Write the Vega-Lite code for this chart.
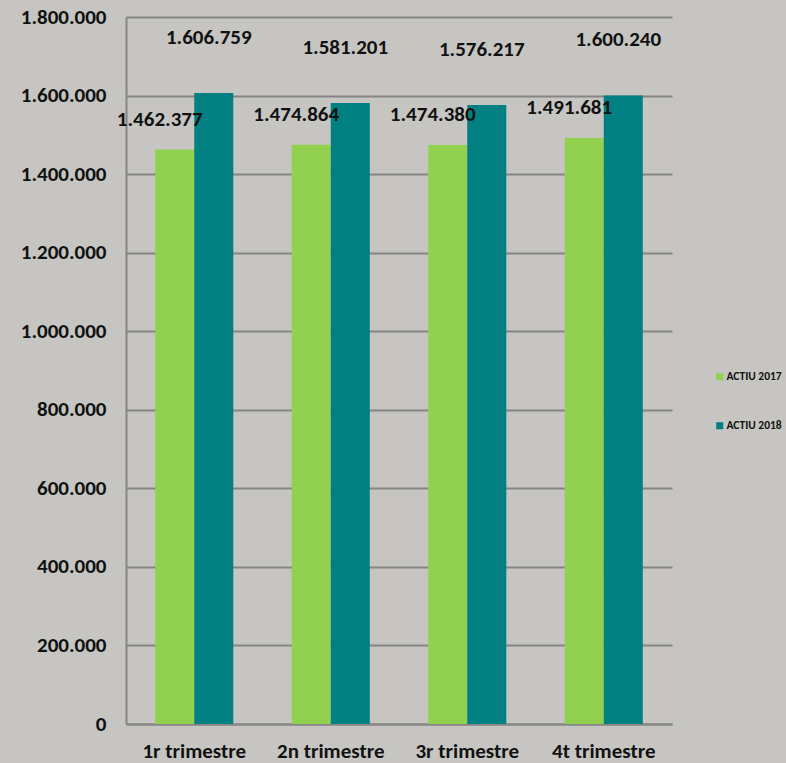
{
  "$schema": "https://vega.github.io/schema/vega-lite/v6.json",
  "width": 546,
  "height": 707,
  "autosize": {"type": "none"},
  "padding": {"left": 126, "top": 17, "right": 114, "bottom": 39},
  "background": "#c6c5c2",
  "config": {
    "locale": {"number": {"decimal": ",", "thousands": ".", "grouping": [3], "currency": ["", ""]}},
    "font": "Carlito, Liberation Sans",
    "view": {"stroke": null}
  },
  "data": {
    "values": [
      {"trimestre": "1r trimestre", "serie": "ACTIU 2017", "valor": 1462377},
      {"trimestre": "1r trimestre", "serie": "ACTIU 2018", "valor": 1606759},
      {"trimestre": "2n trimestre", "serie": "ACTIU 2017", "valor": 1474864},
      {"trimestre": "2n trimestre", "serie": "ACTIU 2018", "valor": 1581201},
      {"trimestre": "3r trimestre", "serie": "ACTIU 2017", "valor": 1474380},
      {"trimestre": "3r trimestre", "serie": "ACTIU 2018", "valor": 1576217},
      {"trimestre": "4t trimestre", "serie": "ACTIU 2017", "valor": 1491681},
      {"trimestre": "4t trimestre", "serie": "ACTIU 2018", "valor": 1600240}
    ]
  },
  "encoding": {
    "x": {
      "field": "trimestre", "type": "nominal", "sort": null,
      "scale": {"paddingInner": 0.428, "paddingOuter": 0.214},
      "axis": {"title": null, "labelAngle": 0, "ticks": false, "grid": false, "labelFontSize": 21, "labelFontWeight": "bold", "labelColor": "#111111", "labelPadding": 16, "domainColor": "#858585", "domainWidth": 2}
    },
    "xOffset": {"field": "serie", "type": "nominal", "scale": {"paddingInner": 0, "paddingOuter": 0}},
    "y": {
      "field": "valor", "type": "quantitative",
      "scale": {"domain": [0, 1800000], "nice": false},
      "axis": {"title": null, "values": [0, 200000, 400000, 600000, 800000, 1000000, 1200000, 1400000, 1600000, 1800000], "format": ",d", "ticks": false, "labelFontSize": 21, "labelFontWeight": "bold", "labelColor": "#111111", "labelPadding": 20, "gridColor": "#858585", "gridWidth": 2, "domainColor": "#858585", "domainWidth": 2}
    }
  },
  "layer": [
    {
      "mark": {"type": "bar"},
      "encoding": {
        "color": {
          "field": "serie", "type": "nominal",
          "scale": {"domain": ["ACTIU 2017", "ACTIU 2018"], "range": ["#92d050", "#008080"]},
          "legend": {"title": null, "orient": "none", "legendX": 588, "legendY": 354, "symbolType": "square", "symbolSize": 50, "labelFontSize": 11.5, "labelFontWeight": "bold", "labelColor": "#111111", "rowPadding": 36, "labelOffset": 1, "symbolStrokeWidth": 0}
        }
      }
    },
    {
      "transform": [{"filter": "datum.serie == 'ACTIU 2017'"}],
      "mark": {"type": "text", "baseline": "middle", "dy": -30, "dx": -15, "fontSize": 21, "fontWeight": "bold", "color": "#111111"},
      "encoding": {"text": {"field": "valor", "type": "quantitative", "format": ",d"}}
    },
    {
      "transform": [{"filter": "datum.serie == 'ACTIU 2018'"}],
      "mark": {"type": "text", "baseline": "middle", "dy": -55, "dx": -5, "fontSize": 21, "fontWeight": "bold", "color": "#111111"},
      "encoding": {"text": {"field": "valor", "type": "quantitative", "format": ",d"}}
    }
  ]
}
